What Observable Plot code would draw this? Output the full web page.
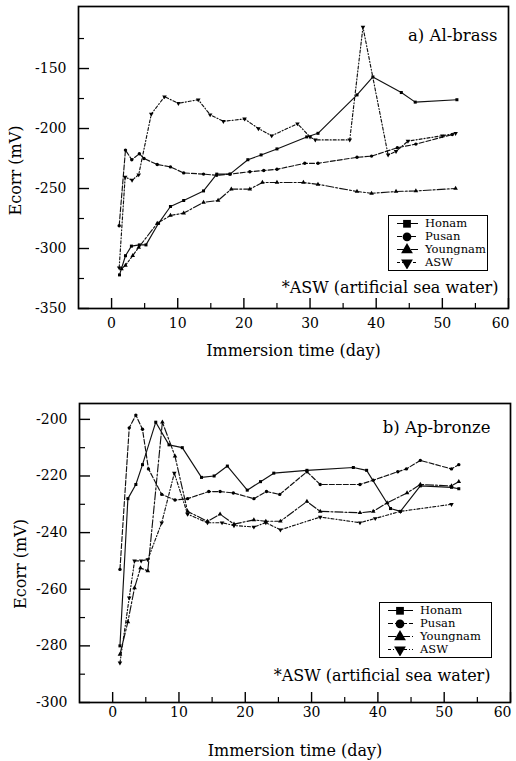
<!DOCTYPE html>
<html><head><meta charset="utf-8">
<script src="https://cdn.jsdelivr.net/npm/d3@7"></script>
<script src="https://cdn.jsdelivr.net/npm/@observablehq/plot@0.6"></script>
<style>
body{margin:0;background:#fff;}
#wrap{position:relative;width:516px;height:761px;font-family:'DejaVu Serif','Liberation Serif',serif;color:#000;}
#wrap svg{display:block;}
.legend{position:absolute;border:1.6px solid #000;background:#fff;box-sizing:border-box;font-size:11.5px;font-family:'DejaVu Serif',serif;}
.legend .row{display:flex;align-items:center;height:13px;line-height:13px;white-space:nowrap;}
</style></head><body><div id="wrap"></div>
<script>
// ---- data ----
const seriesNames = ["Honam", "Pusan", "Youngnam", "ASW"];
const xMajorTicks = [0, 10, 20, 30, 40, 50, 60];
const xMinorTicks = [5, 15, 25, 35, 45, 55];

// a) Al-brass  [day, Ecorr mV]
const alHonam = [[1.2,-322],[2.1,-306],[3.0,-298],[4.2,-297],[5.2,-297],[7.1,-279],[8.9,-265],[10.9,-260],[13.9,-252],[15.9,-238],[17.9,-238],[20.6,-226],[22.6,-222],[25,-217],[29.5,-207],[31.2,-204],[37.1,-172],[39.5,-157],[43.8,-170],[45.9,-178],[52.2,-176]];
const alPusan = [[1.15,-281],[2.1,-218],[3.05,-226],[4.2,-221],[4.9,-225],[6.9,-230],[8.9,-232],[10.9,-237],[13.9,-238],[15.9,-239],[17.9,-238],[20.9,-236],[23,-235],[25,-234],[29.2,-229],[31.2,-229],[37.1,-224],[39.3,-223],[43.2,-216],[46,-213],[51.5,-205]];
const alYoungnam = [[1.5,-317],[2.1,-314],[3.2,-306],[4.1,-299],[6.9,-279],[8.9,-272.5],[10.9,-270.5],[13.9,-261.5],[16.1,-260],[18.1,-250.5],[20.9,-250.5],[22.8,-245],[25,-245],[29,-245],[31.2,-246.5],[37.1,-252.5],[39.3,-254],[43,-252.5],[46,-252],[52,-250]];
const alASW = [[1.15,-316],[2.05,-240.5],[3.1,-243],[4.1,-238.5],[6.0,-188],[8.0,-173.5],[10.1,-179],[13.1,-176],[14.9,-188.5],[16.9,-194],[20.1,-192],[22.2,-200],[24.2,-206],[28.1,-196],[30,-207],[30.8,-209.5],[36,-209.5],[38,-115.5],[41.8,-222],[43,-219],[44.8,-210.5],[50,-206],[52,-204]];
const alYMajor = [-350, -300, -250, -200, -150];
const alYMinor = [-325, -275, -225, -175, -125];

// b) Ap-bronze  [day, Ecorr mV]
const apHonam = [[1.1,-280],[2.3,-228],[3.5,-223],[4.5,-216],[6.5,-201],[8.5,-209],[10.5,-210],[13.4,-220.5],[15.3,-220],[17.3,-216.5],[20.3,-225],[22.3,-222],[24.3,-219],[29.3,-218],[36.3,-217],[38.3,-218],[41.9,-231.5],[43.4,-232.5],[46.4,-223.5],[51.1,-224],[52.2,-224.5]];
const apPusan = [[1.1,-253],[2.5,-203],[3.5,-198.5],[4.5,-203.5],[5.4,-217.5],[7.4,-226.5],[9.4,-228.5],[11.3,-228],[14.5,-225.5],[16.2,-225.5],[18.2,-226],[21.3,-228],[23.2,-225.5],[25.2,-226.5],[29.3,-218.5],[31.3,-223],[37.3,-223],[39.3,-221.5],[43,-218.5],[44.3,-217.5],[46.4,-214.5],[51.1,-217.5],[52.2,-216]];
const apYoungnam = [[1.1,-283],[2.3,-271.5],[3.3,-259.5],[4.2,-252.5],[5.3,-253.5],[7.5,-201],[9.4,-213],[11.3,-232.5],[14.3,-236],[16.2,-233.5],[18.3,-237],[21.3,-235.5],[23.1,-236],[25.3,-236],[29.3,-229],[31.3,-232.5],[37.3,-233],[39.3,-232.5],[41.4,-229.5],[44.4,-226],[46.4,-223],[51.1,-223.5],[52.2,-222]];
const apASW = [[1.1,-286],[2.5,-263],[3.3,-250],[4.3,-250],[5.3,-249.5],[7.4,-236.5],[9.3,-219],[11.3,-233.5],[14.3,-236.5],[16.5,-236.5],[18.3,-237.5],[21.3,-238],[23.1,-236.5],[25.3,-239],[31.3,-234.5],[37.3,-236.5],[39.6,-235],[43.4,-232.5],[51.1,-230]];
const apYMajor = [-300, -280, -260, -240, -220, -200];
const apYMinor = [-290, -270, -250, -230, -210];

// ---- styles ----
const STY = [
  {symbol: "square", rotate: 0, dash: null},
  {symbol: "circle", rotate: 0, dash: "5,2"},
  {symbol: "triangle", rotate: 0, dash: "8,2,2,2"},
  {symbol: "triangle", rotate: 180, dash: "3,2,1,2"}
];
const FONT = "'DejaVu Serif','Liberation Serif',serif";

function panel(cfg) {
  const W = 516;
  const fw = W - cfg.ml - cfg.mr, fh = cfg.h - cfg.mt - cfg.mb;
  const marks = [];
  cfg.series.forEach((pairs, i) => {
    const rows = pairs.map(([day, E]) => ({series: seriesNames[i], day, E}));
    marks.push(Plot.line(rows, {x: "day", y: "E", stroke: "#111", strokeWidth: 1.15, strokeDasharray: STY[i].dash}));
    marks.push(Plot.dot(rows, {x: "day", y: "E", symbol: STY[i].symbol, rotate: STY[i].rotate, r: 1.7, fill: "#000", stroke: "none"}));
  });
  const xInner = xMajorTicks.slice(0, -1), xLast = xMajorTicks.slice(-1);
  marks.push(
    Plot.tickY(cfg.yMajor, {y: d => d, insetRight: fw - 11, stroke: "#000", strokeWidth: 1.4}),
    Plot.tickY(cfg.yMinor, {y: d => d, insetRight: fw - 6, stroke: "#000", strokeWidth: 1.2}),
    Plot.tickX(xMajorTicks, {x: d => d, insetTop: fh - 10, stroke: "#000", strokeWidth: 1.4}),
    Plot.tickX(xMinorTicks, {x: d => d, insetTop: fh - 5, stroke: "#000", strokeWidth: 1.2}),
    Plot.frame({stroke: "#000", strokeWidth: 1.7}),
    Plot.axisY({ticks: cfg.yMajor, tickSize: 0, tickPadding: cfg.yPad, tickFormat: d => String(d), fontSize: 14, fontFamily: FONT,
      label: null}),
    Plot.axisX({ticks: xInner, tickSize: 0, tickPadding: cfg.xPad, tickFormat: d => String(d), fontSize: 14, fontFamily: FONT,
      label: null}),
    Plot.axisX({ticks: xLast, tickSize: 0, tickPadding: cfg.xPad, tickFormat: d => String(d), fontSize: 14, fontFamily: FONT,
      textAnchor: "end", dx: 1, label: null}),
    Plot.text(["Ecorr (mV)"], {frameAnchor: "left", dx: -cfg.yLabOff, dy: cfg.yLabDy, rotate: -90, textAnchor: "middle", lineAnchor: "middle", fontSize: 16, fontFamily: FONT}),
    Plot.text(["Immersion time (day)"], {frameAnchor: "bottom", dy: cfg.xLabOff, textAnchor: "middle", lineAnchor: "middle", fontSize: 16, fontFamily: FONT}),
    Plot.text([cfg.title], {frameAnchor: "top-right", dx: cfg.titleDx, dy: cfg.titleDy, textAnchor: "end", lineAnchor: "middle", fontSize: 16.5, fontFamily: FONT}),
    Plot.text(["*ASW (artificial sea water)"], {frameAnchor: "bottom-right", dx: cfg.noteDx, dy: cfg.noteDy, textAnchor: "end", lineAnchor: "middle", fontSize: 16, fontFamily: FONT})
  );
  return Plot.plot({
    width: W, height: cfg.h,
    marginLeft: cfg.ml, marginRight: cfg.mr, marginTop: cfg.mt, marginBottom: cfg.mb,
    x: {domain: [-5, 60], axis: null},
    y: {domain: cfg.yDomain, axis: null},
    style: {fontFamily: FONT, fontSize: "14px", color: "#000", background: "#fff", overflow: "visible"},
    marks
  });
}

function legend(cfg) {
  const div = document.createElement("div");
  div.className = "legend";
  Object.assign(div.style, {left: cfg.left + "px", top: cfg.top + "px", width: cfg.w + "px", height: cfg.hgt + "px", paddingTop: "1px"});
  seriesNames.forEach((name, i) => {
    const row = document.createElement("div");
    row.className = "row";
    const svg = d3.create("svg").attr("width", cfg.symW).attr("height", 13);
    const g = svg.append("g");
    g.append("line").attr("x1", cfg.lx1).attr("x2", cfg.lx2).attr("y1", 6.5).attr("y2", 6.5)
      .attr("stroke", "#000").attr("stroke-width", 1).attr("stroke-dasharray", STY[i].dash);
    const sym = {square: d3.symbolSquare, circle: d3.symbolCircle, triangle: d3.symbolTriangle}[STY[i].symbol];
    g.append("path").attr("d", d3.symbol(sym, 60)())
      .attr("transform", `translate(${cfg.mx},6.8) rotate(${STY[i].rotate})`).attr("fill", "#000");
    row.appendChild(svg.node());
    const t = document.createElement("span");
    t.textContent = name;
    t.style.marginLeft = cfg.gap + "px";
    row.appendChild(t);
    div.appendChild(row);
  });
  return div;
}

const wrap = document.getElementById("wrap");
wrap.appendChild(panel({
  series: [alHonam, alPusan, alYoungnam, alASW],
  yDomain: [-350, -98.3], yMajor: alYMajor, yMinor: alYMinor,
  h: 365, ml: 78, mr: 8, mt: 6, mb: 57,
  yPad: 12, xPad: 10, yLabOff: 63, yLabDy: 13, xLabOff: 42,
  title: "a) Al-brass", titleDx: -11, titleDy: 29, noteDx: -10, noteDy: -21
}));
wrap.appendChild(panel({
  series: [apHonam, apPusan, apYoungnam, apASW],
  yDomain: [-300, -194.4], yMajor: apYMajor, yMinor: apYMinor,
  h: 396, ml: 79, mr: 6, mt: 38, mb: 59,
  yPad: 12, xPad: 5, yLabOff: 59, yLabDy: 11, xLabOff: 48,
  title: "b) Ap-bronze", titleDx: -20, titleDy: 24, noteDx: -20, noteDy: -27
}));
wrap.appendChild(legend({left: 388, top: 215, w: 100, hgt: 56, symW: 33, lx1: 8, lx2: 29, mx: 18, gap: 3}));
wrap.appendChild(legend({left: 379, top: 602, w: 113, hgt: 56, symW: 36, lx1: 8, lx2: 33, mx: 20, gap: 4}));
</script></body></html>
